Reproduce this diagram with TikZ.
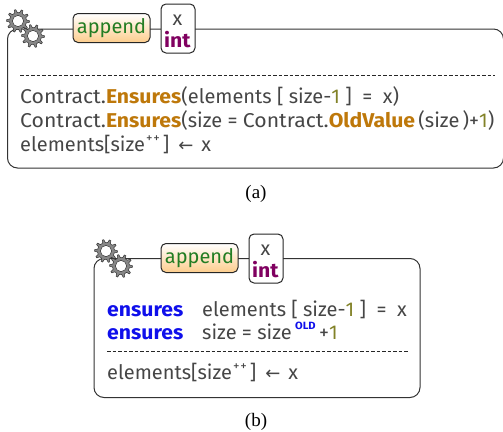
\documentclass[tikz,border=0pt]{standalone}
\usepackage{fontspec}
\setmainfont{Liberation Serif}
\newfontfamily\codefont[BoldFeatures={FakeStretch=1.06}]{Fira Sans}
\newfontfamily\arrowfont{DejaVu Sans}
\definecolor{textgray}{RGB}{70,70,70}
\definecolor{callcolor}{RGB}{190,120,10}
\definecolor{numcolor}{RGB}{130,130,40}
\definecolor{typecolor}{RGB}{128,0,96}
\definecolor{namecolor}{RGB}{35,125,35}
\definecolor{keycolor}{RGB}{15,15,235}
\definecolor{wheelgray}{RGB}{135,135,135}
\definecolor{namefill}{RGB}{253,205,140}
\newcommand{\callname}[1]{\textcolor{callcolor}{\bfseries #1}}
\newcommand{\keyname}[1]{\textcolor{keycolor}{\bfseries #1}}
\newcommand{\num}[1]{\textcolor{numcolor}{#1}}
\newcommand{\classname}{{\addfontfeature{FakeStretch=1.06}Contract.}}
\newcommand{\plusplus}{\raisebox{.42em}{\fontsize{13}{13}\selectfont\kern1pt+\kern1pt+\kern3pt}}
\newcommand{\getsarrow}{\kern9pt{\arrowfont\fontsize{18}{18}\selectfont ←}\kern8pt}
\tikzset{
  % outer frame of a feature
  feature box/.style={draw=black!80,line width=1pt,rounded corners=10pt,
    minimum width=#1,minimum height=139pt,inner sep=0pt},
  % orange tag holding the feature name
  name tag/.style={draw=black!85,line width=1pt,rounded corners=5pt,top color=white,
    bottom color=namefill,text=namecolor,font=\codefont\fontsize{20}{20}\selectfont,
    minimum width=77pt,minimum height=29pt,inner sep=0pt},
  % white tag holding the argument
  arg tag/.style={draw=black!85,line width=1pt,fill=white,rounded corners=5pt,
    minimum width=34pt,minimum height=49pt,inner sep=0pt,align=center},
  code line/.style={anchor=base west,inner sep=0pt,text=textgray,font=\codefont\fontsize{20}{20}\selectfont},
  type line/.style={code line,font=\codefont\bfseries\fontsize{20}{20}\selectfont,text=typecolor},
  dash line/.style={draw=black!85,line width=.7pt,dash pattern=on 3.6pt off 1.9pt},
  caption/.style={font=\fontsize{19}{19}\selectfont,text=black},
  % a small toothed wheel
  wheel/.pic={
    \path [draw=black!80,fill=wheelgray,line width=.5pt]
    (0:11.5) \foreach \a in {0,36,...,324} {
      -- (\a+7:11.5) -- (\a+13:8.5) -- (\a+29:8.5) -- (\a+35:11.5)
    } -- cycle;
    \path [draw=black!80,fill=white,line width=.5pt] (0,0) circle (5.6);
  },
}
\begin{document}
\begin{tikzpicture}[x=1pt,y=-1pt]
\useasboundingbox (0,0) rectangle (503,431);
% upper feature
\node [feature box=496pt] (boxa) at (255.5,98.5) {};
\pic at (18,21) {wheel};
\pic at (33,36) {wheel};
\node [name tag] (namea) at (111.5,28) {append};
\node [arg tag] (arga) at (178,28.5) {};
\node [code line] (xa) at (172.5,25) {x};
\node [type line] (inta) at (164,47) {int};
\draw [dash line] (20,75) -- (495,75);
\node [code line] (linea) at (20,103) {\classname\callname{Ensures}(elements [ size-\num{1} ] \ = \ x)};
\node [code line] (lineb) at (20,127) {\classname\callname{Ensures}(size = \classname\callname{OldValue}\,(size\,)+\num{1})};
\node [code line] (linec) at (20,151) {elements[size\plusplus]\getsarrow x};
\node [caption] (capa) at (256,194) {(a)};
% lower feature
\node [feature box=326pt] (boxb) at (257,328) {};
\pic at (106,251) {wheel};
\pic at (121,266) {wheel};
\node [name tag] (nameb) at (199.5,258) {append};
\node [arg tag] (argb) at (266,258.5) {};
\node [code line] (xb) at (260.5,255) {x};
\node [type line] (intb) at (252,277) {int};
\node [code line] (ensa) at (107,316) {\keyname{ensures}};
\node [code line] (lined) at (202,316) {elements [ size-\num{1} ] \ = \ x};
\node [code line] (ensb) at (107,339) {\keyname{ensures}};
\node [code line] (linee) at (202,339) {size = size\,\raisebox{.5em}{\fontsize{10.5}{10.5}\selectfont\keyname{OLD}}\,+\num{1}};
\draw [dash line] (107,351) -- (408,351);
\node [code line] (linef) at (107,379) {elements[size\plusplus]\getsarrow x};
\node [caption] (capb) at (256,422) {(b)};
\end{tikzpicture}
\end{document}
